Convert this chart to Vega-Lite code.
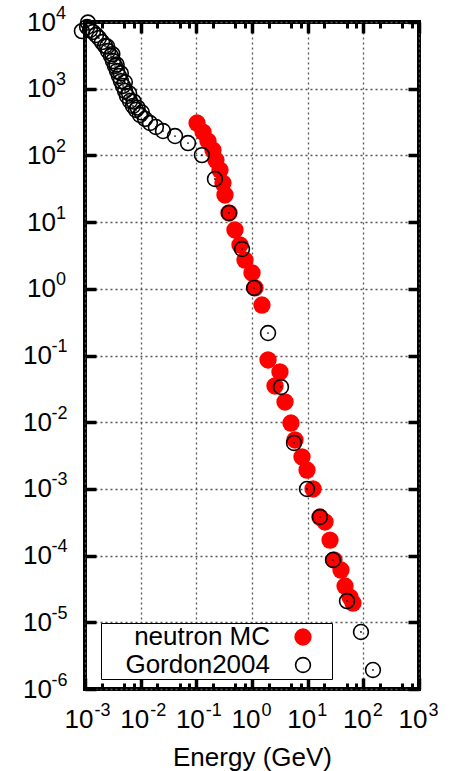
{
  "$schema": "https://vega.github.io/schema/vega-lite/v6.json",
  "width": 334,
  "height": 667,
  "autosize": "none",
  "padding": {"left": 85, "top": 22, "right": 33, "bottom": 82},
  "background": "white",
  "config": {
    "view": {"stroke": "black", "strokeWidth": 4},
    "font": "Liberation Sans",
    "axis": {"labelFont": "Liberation Sans", "labelColor": "black", "titleFont": "Liberation Sans", "titleColor": "black", "labelFlush": false, "labelOverlap": false, "labelBound": false}
  },
  "data": {
    "values": [
      {"e": 0.103, "f": 306, "s": "neutron MC"},
      {"e": 0.132, "f": 224, "s": "neutron MC"},
      {"e": 0.162, "f": 164, "s": "neutron MC"},
      {"e": 0.199, "f": 120, "s": "neutron MC"},
      {"e": 0.225, "f": 85.3, "s": "neutron MC"},
      {"e": 0.266, "f": 60.4, "s": "neutron MC"},
      {"e": 0.301, "f": 38.5, "s": "neutron MC"},
      {"e": 0.327, "f": 25.5, "s": "neutron MC"},
      {"e": 0.386, "f": 13.7, "s": "neutron MC"},
      {"e": 0.494, "f": 7.62, "s": "neutron MC"},
      {"e": 0.608, "f": 4.54, "s": "neutron MC"},
      {"e": 0.748, "f": 2.7, "s": "neutron MC"},
      {"e": 1.0, "f": 1.73, "s": "neutron MC"},
      {"e": 1.13, "f": 1.03, "s": "neutron MC"},
      {"e": 1.51, "f": 0.571, "s": "neutron MC"},
      {"e": 1.94, "f": 0.0857, "s": "neutron MC"},
      {"e": 3.18, "f": 0.0566, "s": "neutron MC"},
      {"e": 2.59, "f": 0.0349, "s": "neutron MC"},
      {"e": 3.92, "f": 0.0201, "s": "neutron MC"},
      {"e": 5.01, "f": 0.00972, "s": "neutron MC"},
      {"e": 5.92, "f": 0.00541, "s": "neutron MC"},
      {"e": 7.91, "f": 0.00301, "s": "neutron MC"},
      {"e": 9.73, "f": 0.00192, "s": "neutron MC"},
      {"e": 12.5, "f": 0.000997, "s": "neutron MC"},
      {"e": 16.6, "f": 0.000379, "s": "neutron MC"},
      {"e": 20.5, "f": 0.000319, "s": "neutron MC"},
      {"e": 25.2, "f": 0.000171, "s": "neutron MC"},
      {"e": 29.7, "f": 0.000086, "s": "neutron MC"},
      {"e": 39.7, "f": 0.0000608, "s": "neutron MC"},
      {"e": 46.9, "f": 0.000035, "s": "neutron MC"},
      {"e": 57.6, "f": 0.0000239, "s": "neutron MC"},
      {"e": 65.2, "f": 0.0000194, "s": "neutron MC"},
      {"e": 0.00088, "f": 7300, "s": "Gordon2004"},
      {"e": 0.00113, "f": 9800, "s": "Gordon2004"},
      {"e": 0.00109, "f": 8400, "s": "Gordon2004"},
      {"e": 0.00123, "f": 7600, "s": "Gordon2004"},
      {"e": 0.00139, "f": 7080, "s": "Gordon2004"},
      {"e": 0.00158, "f": 6380, "s": "Gordon2004"},
      {"e": 0.00178, "f": 5750, "s": "Gordon2004"},
      {"e": 0.00202, "f": 5000, "s": "Gordon2004"},
      {"e": 0.00229, "f": 4370, "s": "Gordon2004"},
      {"e": 0.0025, "f": 4300, "s": "Gordon2004"},
      {"e": 0.00259, "f": 3670, "s": "Gordon2004"},
      {"e": 0.00293, "f": 3090, "s": "Gordon2004"},
      {"e": 0.0031, "f": 3300, "s": "Gordon2004"},
      {"e": 0.00318, "f": 2600, "s": "Gordon2004"},
      {"e": 0.00346, "f": 2190, "s": "Gordon2004"},
      {"e": 0.0037, "f": 2300, "s": "Gordon2004"},
      {"e": 0.00376, "f": 1840, "s": "Gordon2004"},
      {"e": 0.00408, "f": 1550, "s": "Gordon2004"},
      {"e": 0.0044, "f": 1700, "s": "Gordon2004"},
      {"e": 0.00443, "f": 1300, "s": "Gordon2004"},
      {"e": 0.00482, "f": 1100, "s": "Gordon2004"},
      {"e": 0.0052, "f": 1250, "s": "Gordon2004"},
      {"e": 0.00524, "f": 925, "s": "Gordon2004"},
      {"e": 0.00568, "f": 778, "s": "Gordon2004"},
      {"e": 0.0062, "f": 850, "s": "Gordon2004"},
      {"e": 0.00643, "f": 655, "s": "Gordon2004"},
      {"e": 0.00728, "f": 551, "s": "Gordon2004"},
      {"e": 0.0075, "f": 640, "s": "Gordon2004"},
      {"e": 0.00824, "f": 480, "s": "Gordon2004"},
      {"e": 0.0088, "f": 520, "s": "Gordon2004"},
      {"e": 0.00973, "f": 404, "s": "Gordon2004"},
      {"e": 0.0105, "f": 440, "s": "Gordon2004"},
      {"e": 0.012, "f": 352, "s": "Gordon2004"},
      {"e": 0.0147, "f": 306, "s": "Gordon2004"},
      {"e": 0.0188, "f": 267, "s": "Gordon2004"},
      {"e": 0.0252, "f": 232, "s": "Gordon2004"},
      {"e": 0.0414, "f": 195, "s": "Gordon2004"},
      {"e": 0.0708, "f": 153, "s": "Gordon2004"},
      {"e": 0.126, "f": 101, "s": "Gordon2004"},
      {"e": 0.216, "f": 44.3, "s": "Gordon2004"},
      {"e": 0.386, "f": 13.7, "s": "Gordon2004"},
      {"e": 0.661, "f": 3.95, "s": "Gordon2004"},
      {"e": 1.09, "f": 1.03, "s": "Gordon2004"},
      {"e": 1.94, "f": 0.217, "s": "Gordon2004"},
      {"e": 3.32, "f": 0.0337, "s": "Gordon2004"},
      {"e": 5.68, "f": 0.00488, "s": "Gordon2004"},
      {"e": 9.72, "f": 0.000997, "s": "Gordon2004"},
      {"e": 16.6, "f": 0.000379, "s": "Gordon2004"},
      {"e": 28.5, "f": 0.000086, "s": "Gordon2004"},
      {"e": 50.9, "f": 0.0000208, "s": "Gordon2004"},
      {"e": 90.7, "f": 0.00000716, "s": "Gordon2004"},
      {"e": 149, "f": 0.00000193, "s": "Gordon2004"}
    ]
  },
  "layer": [
    {
      "mark": {"type": "point", "filled": true, "opacity": 1, "strokeWidth": 1.6},
      "encoding": {
        "x": {"field": "e", "type": "quantitative", "scale": {"type": "log", "domain": [0.001, 1000]},
          "axis": {"orient": "bottom", "values": [0.001, 0.01, 0.1, 1, 10, 100, 1000], "grid": true, "gridColor": "#555555", "gridDash": [2, 3], "gridWidth": 1.3, "domain": false, "ticks": true, "tickSize": -11, "tickWidth": 3.5, "tickColor": "black", "labelExpr": "'10'", "labelFontSize": 26, "labelAlign": "right", "labelOffset": 8, "labelPadding": 28.5, "title": "Energy (GeV)", "titleFontSize": 26, "titleFontWeight": "normal", "titlePadding": 12}},
        "y": {"field": "f", "type": "quantitative", "scale": {"type": "log", "domain": [0.000001, 10000]},
          "axis": {"orient": "left", "values": [0.000001, 0.00001, 0.0001, 0.001, 0.01, 0.1, 1, 10, 100, 1000, 10000], "grid": true, "gridColor": "#555555", "gridDash": [2, 3], "gridWidth": 1.3, "domain": false, "ticks": true, "tickSize": -11, "tickWidth": 3.5, "tickColor": "black", "labelExpr": "'10'", "labelFontSize": 26, "labelAlign": "right", "labelBaseline": "middle", "labelPadding": {"condition": {"test": "datum.value < 1", "value": 44.5}, "value": 40.5}, "title": null}},
        "fill": {"field": "s", "type": "nominal", "scale": {"domain": ["neutron MC", "Gordon2004"], "range": ["#ff0000", "transparent"]},
          "legend": {"title": "\u00a0", "titleOrient": "right", "titleFontSize": 12, "titlePadding": 16, "orient": "none", "legendX": 16, "legendY": 601, "labelFontSize": 26, "labelFont": "Liberation Sans", "labelColor": "black", "strokeColor": "black", "fillColor": "white", "padding": 1, "rowPadding": 2, "labelAlign": "right", "labelOffset": -46, "symbolOffset": 188, "symbolStrokeWidth": 1.6, "labelLimit": 300}},
        "stroke": {"field": "s", "type": "nominal", "scale": {"domain": ["neutron MC", "Gordon2004"], "range": ["transparent", "#000000"]}},
        "size": {"field": "s", "type": "nominal", "scale": {"domain": ["neutron MC", "Gordon2004"], "range": [300, 220]}}
      }
    },
    {
      "transform": [{"filter": "datum.s == 'Gordon2004'"}],
      "mark": {"type": "point", "filled": true, "opacity": 1, "size": 3, "color": "black"},
      "encoding": {
        "x": {"field": "e", "type": "quantitative", "scale": {"type": "log", "domain": [0.001, 1000]}, "axis": null},
        "y": {"field": "f", "type": "quantitative", "scale": {"type": "log", "domain": [0.000001, 10000]}, "axis": null}
      }
    },
    {
      "mark": {"type": "point", "opacity": 0},
      "encoding": {
        "x": {"field": "e", "type": "quantitative", "scale": {"type": "log", "domain": [0.001, 1000]},
          "axis": {"orient": "top", "values": [0.001, 0.01, 0.1, 1, 10, 100, 1000], "grid": false, "domain": false, "labels": false, "ticks": true, "tickSize": -11, "tickWidth": 3.5, "tickColor": "black", "title": null}},
        "y": {"field": "f", "type": "quantitative", "scale": {"type": "log", "domain": [0.000001, 10000]},
          "axis": {"orient": "right", "values": [0.000001, 0.00001, 0.0001, 0.001, 0.01, 0.1, 1, 10, 100, 1000, 10000], "grid": false, "domain": false, "labels": false, "ticks": true, "tickSize": -11, "tickWidth": 3.5, "tickColor": "black", "title": null}}
      }
    },
    {
      "mark": {"type": "point", "opacity": 0},
      "encoding": {
        "x": {"field": "e", "type": "quantitative", "scale": {"type": "log", "domain": [0.001, 1000]},
          "axis": {"orient": "bottom", "values": [0.002, 0.005, 0.0075, 0.02, 0.05, 0.075, 0.2, 0.5, 0.75, 2, 5, 7.5, 20, 50, 75, 200, 500, 750], "grid": false, "domain": false, "labels": false, "ticks": true, "tickSize": -6, "tickWidth": 3, "tickColor": "black", "title": null}},
        "y": {"field": "f", "type": "quantitative", "scale": {"type": "log", "domain": [0.000001, 10000]}, "axis": null}
      }
    },
    {
      "mark": {"type": "point", "opacity": 0},
      "encoding": {
        "x": {"field": "e", "type": "quantitative", "scale": {"type": "log", "domain": [0.001, 1000]},
          "axis": {"orient": "top", "values": [0.002, 0.005, 0.0075, 0.02, 0.05, 0.075, 0.2, 0.5, 0.75, 2, 5, 7.5, 20, 50, 75, 200, 500, 750], "grid": false, "domain": false, "labels": false, "ticks": true, "tickSize": -6, "tickWidth": 3, "tickColor": "black", "title": null}},
        "y": {"field": "f", "type": "quantitative", "scale": {"type": "log", "domain": [0.000001, 10000]}, "axis": null}
      }
    },
    {
      "mark": {"type": "point", "opacity": 0},
      "encoding": {
        "x": {"field": "e", "type": "quantitative", "scale": {"type": "log", "domain": [0.001, 1000]},
          "axis": {"orient": "bottom", "values": [0.001, 0.01, 0.1, 1, 10, 100, 1000], "grid": false, "domain": false, "ticks": false, "labelExpr": "'' + round(log(datum.value) / LN10)", "labelFontSize": 18, "labelAlign": "left", "labelOffset": 9, "labelPadding": 12, "title": null}},
        "y": {"field": "f", "type": "quantitative", "scale": {"type": "log", "domain": [0.000001, 10000]},
          "axis": {"orient": "left", "values": [0.000001, 0.00001, 0.0001, 0.001, 0.01, 0.1, 1, 10, 100, 1000, 10000], "grid": false, "domain": false, "ticks": false, "labelExpr": "'' + round(log(datum.value) / LN10)", "labelFontSize": 18, "labelAlign": "left", "labelBaseline": "middle", "labelOffset": -9, "labelPadding": {"condition": {"test": "datum.value < 1", "value": 34}, "value": 29.5}, "title": null}}
      }
    }
  ],
  "resolve": {"axis": {"x": "independent", "y": "independent"}}
}
